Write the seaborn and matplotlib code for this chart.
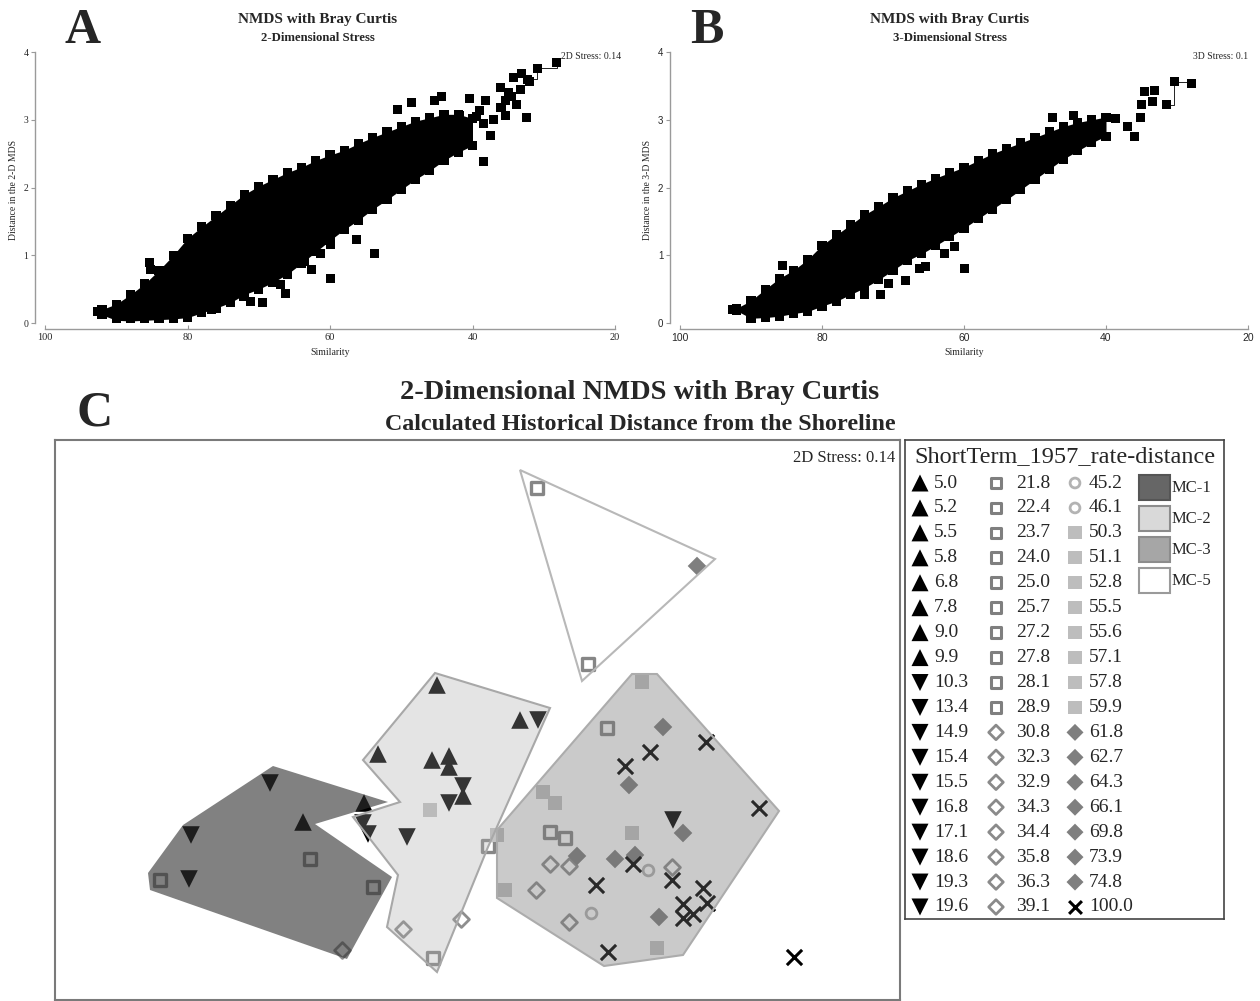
import matplotlib
matplotlib.use("Agg")
import matplotlib.pyplot as plt
import seaborn as sns
import pandas as pd

# === Shepard plot A (2-D) : dense band read as lower/upper envelope + loose points ===
band_sim = [92, 90, 88, 86, 84, 82, 80, 78, 76, 74, 72, 70, 68, 66, 64, 62, 60, 58, 56, 54, 52, 50, 48, 46, 44, 42, 40]
band_lo_a = [0.12, 0.04, 0.03, 0.04, 0.05, 0.06, 0.08, 0.15, 0.22, 0.30, 0.42, 0.50, 0.60, 0.72, 0.88, 1.05, 1.22, 1.38, 1.52, 1.68, 1.82, 1.97, 2.12, 2.25, 2.40, 2.52, 2.62]
band_hi_a = [0.20, 0.28, 0.42, 0.58, 0.78, 1.00, 1.25, 1.42, 1.58, 1.74, 1.90, 2.02, 2.12, 2.22, 2.30, 2.40, 2.48, 2.55, 2.65, 2.74, 2.82, 2.90, 2.98, 3.03, 3.08, 3.08, 3.02]
loose_sim_a = [92.7, 85.3, 85.2, 81.6, 78.6, 63.6, 62.6, 59.9, 59.9, 56.3, 53.7, 61.4, 66.3, 66.9, 69.5, 71.2, 72.1, 76.7,
               38.4, 42.9, 37.5, 28.2, 30.9, 32.3, 34.2, 33.1, 32.0, 33.3, 35.4, 36.1, 38.2, 40.4, 44.3, 45.3,
               39.0, 41.8, 35.4, 32.4, 41.0, 50.5, 48.5, 37.0, 36.0, 34.5, 38.5, 39.5, 33.8, 35.0]
loose_d_a = [0.17, 0.89, 0.79, 0.86, 1.00, 0.91, 0.79, 0.65, 1.16, 1.23, 1.03, 1.03, 0.44, 0.57, 0.30, 0.32, 0.39, 0.20,
             2.38, 2.58, 2.77, 3.84, 3.76, 3.60, 3.63, 3.69, 3.56, 3.44, 3.29, 3.47, 3.29, 3.32, 3.34, 3.29,
             3.14, 3.07, 3.07, 3.04, 2.92, 3.15, 3.25, 3.00, 3.18, 3.35, 2.95, 3.05, 3.22, 3.40]
step_sim_a = [32.3, 30.9, 30.9, 28.2, 28.2]
step_d_a = [3.60, 3.60, 3.76, 3.76, 3.84]

# === Shepard plot B (3-D) ===
band_lo_b = [0.18, 0.07, 0.08, 0.10, 0.14, 0.17, 0.25, 0.32, 0.42, 0.52, 0.64, 0.78, 0.92, 1.02, 1.14, 1.27, 1.40, 1.54, 1.68, 1.82, 1.97, 2.12, 2.27, 2.42, 2.54, 2.66, 2.76]
band_hi_b = [0.22, 0.33, 0.50, 0.66, 0.78, 0.94, 1.15, 1.30, 1.45, 1.60, 1.72, 1.85, 1.95, 2.05, 2.14, 2.22, 2.30, 2.40, 2.50, 2.58, 2.66, 2.74, 2.82, 2.90, 2.96, 3.00, 3.04]
loose_sim_b = [92.6, 85.5, 74.0, 71.8, 70.6, 68.3, 66.3, 65.4, 62.7, 61.3, 59.9,
               34.6, 33.2, 35.0, 33.5, 31.5, 30.4, 27.9, 47.5, 44.6, 38.6, 35.2, 37.0, 36.0]
loose_d_b = [0.20, 0.85, 0.42, 0.42, 0.59, 0.62, 0.81, 0.84, 1.03, 1.13, 0.80,
             3.41, 3.43, 3.22, 3.27, 3.22, 3.56, 3.54, 3.04, 3.07, 3.02, 3.04, 2.90, 2.75]
step_sim_b = [31.5, 30.4, 30.4, 27.9]
step_d_b = [3.22, 3.22, 3.56, 3.56]

# === Panel C: NMDS coordinates by symbol class ===
up_x = [-1.77, -1.16, -0.43, -1.02, -0.48, -0.31, -0.31, -0.17, 0.40]
up_y = [-1.02, -0.83, 0.35, -0.34, -0.40, -0.36, -0.47, -0.76, 0.00]
down_x = [-2.10, -2.89, -2.91, -1.17, -1.12, -0.73, -0.17, -0.31, 0.58, 1.93]
down_y = [-0.63, -1.15, -1.59, -1.03, -1.14, -1.17, -0.66, -0.83, 0.00, -1.00]
osq_x = [-1.70, -3.20, -1.07, -0.47, 0.08, 0.57, 1.08, 1.27, 0.70, 0.85]
osq_y = [-1.39, -1.60, -1.67, -2.38, -1.26, 2.32, 0.56, -0.08, -1.12, -1.18]
odia_x = [-1.38, -0.77, -0.19, 0.70, 0.89, 0.56, 0.89, 1.92]
odia_y = [-2.30, -2.09, -1.99, -1.44, -1.46, -1.70, -2.02, -1.47]
circ_x = [1.68, 1.11]
circ_y = [-1.50, -1.93]
lsq_x = [-0.50, 0.17, 0.25, 1.62, 0.63, 0.75, 1.52, 1.77]
lsq_y = [-0.90, -1.15, -1.70, 0.38, -0.72, -0.83, -1.13, -2.28]
fdia_x = [2.17, 1.83, 1.49, 2.03, 0.97, 1.35, 1.55, 1.79]
fdia_y = [1.54, -0.07, -0.65, -1.13, -1.36, -1.39, -1.35, -1.97]
cross_x = [2.26, 1.70, 1.45, 2.79, 1.53, 1.92, 1.16, 2.23, 2.27, 2.03, 2.13, 2.03, 1.28, 3.14]
cross_y = [-0.22, -0.32, -0.46, -0.88, -1.44, -1.60, -1.65, -1.68, -1.83, -1.84, -1.94, -1.98, -2.32, -2.37]

# cluster outlines (MC groups)
mc1_x = [-2.07, -0.92, -1.65, -0.88, -1.33, -3.30, -3.32, -2.97]
mc1_y = [-0.46, -0.82, -1.04, -1.57, -2.39, -1.70, -1.53, -1.05]
mc2_x = [-0.45, 0.70, 0.08, -0.43, -0.93, -0.82, -1.27, -0.80, -1.17]
mc2_y = [0.47, 0.12, -1.27, -2.52, -2.07, -1.55, -0.97, -0.82, -0.40]
mc3_x = [1.52, 1.77, 2.99, 2.03, 1.24, 0.17, 0.17]
mc3_y = [0.46, 0.46, -0.91, -2.35, -2.46, -1.78, -1.10]
mc5_x = [0.40, 2.35, 1.02]
mc5_y = [2.50, 1.61, 0.39]

# legend text
leg_col1 = ["5.0", "5.2", "5.5", "5.8", "6.8", "7.8", "9.0", "9.9", "10.3", "13.4", "14.9", "15.4", "15.5", "16.8", "17.1", "18.6", "19.3", "19.6"]
leg_col2 = ["21.8", "22.4", "23.7", "24.0", "25.0", "25.7", "27.2", "27.8", "28.1", "28.9", "30.8", "32.3", "32.9", "34.3", "34.4", "35.8", "36.3", "39.1"]
leg_col3 = ["45.2", "46.1", "50.3", "51.1", "52.8", "55.5", "55.6", "57.1", "57.8", "59.9", "61.8", "62.7", "64.3", "66.1", "69.8", "73.9", "74.8", "100.0"]
mc_names = ["MC-1", "MC-2", "MC-3", "MC-5"]

# === estilo ===
sns.set_theme(style="white")
plt.rcParams["font.family"] = ["Liberation Serif", "DejaVu Serif"]

W, H = 1260, 1001
fig = plt.figure(figsize=(12.6, 10.01), dpi=100)


def fr(px, py):
    return px / W, 1 - py / H


def shepard(ax, lo, hi, lsim, ld, ssim, sd, tickfam):
    ax.fill_between(band_sim, lo, hi, color="black", lw=0)
    edge = pd.DataFrame({"sim": band_sim + band_sim, "d": lo + hi})
    sns.scatterplot(data=edge, x="sim", y="d", marker="s", s=42, color="black",
                    edgecolor="none", ax=ax)
    loose = pd.DataFrame({"sim": lsim, "d": ld})
    sns.scatterplot(data=loose, x="sim", y="d", marker="s", s=42, color="black",
                    edgecolor="none", ax=ax)
    ax.plot(ssim, sd, color="black", lw=0.6)
    ax.set_xlim(100, 20)
    ax.set_ylim(0, 4)
    ax.set_xticks([100, 80, 60, 40, 20])
    ax.set_yticks([0, 1, 2, 3, 4])
    ax.set_xlabel("")
    ax.set_ylabel("")
    sns.despine(ax=ax, offset={"left": 7, "bottom": 4})
    for s in ("left", "bottom"):
        ax.spines[s].set_color("#9a9a9a")
        ax.spines[s].set_linewidth(1.0)
    ax.tick_params(axis="y", left=True, length=3, width=0.8, color="#9a9a9a", pad=2, labelsize=7)
    ax.tick_params(axis="x", bottom=True, direction="in", length=3, width=0.8, color="#9a9a9a", pad=3, labelsize=7.5)
    for lab in ax.get_xticklabels() + ax.get_yticklabels():
        lab.set_family(tickfam)


# --- A ---
axA = fig.add_axes([45 / W, 1 - 323 / H, 570 / W, 271 / H])
shepard(axA, band_lo_a, band_hi_a, loose_sim_a, loose_d_a, step_sim_a, step_d_a, "Liberation Serif")
axA.text(1.01, 0.985, "2D Stress: 0.14", transform=axA.transAxes, ha="right", va="center", fontsize=7)
fig.text(*fr(83, 31), "A", fontsize=36, fontweight="bold", ha="center", va="center")
fig.text(*fr(318, 20), "NMDS with Bray Curtis", fontsize=11, fontweight="bold", ha="center", va="center")
fig.text(*fr(318, 38), "2-Dimensional Stress", fontsize=9.2, fontweight="bold", ha="center", va="center")
fig.text(*fr(330, 353), "Similarity", fontsize=7, ha="center", va="center")
fig.text(*fr(14, 190), "Distance in the 2-D MDS", fontsize=7, ha="center", va="center", rotation=90)

# --- B ---
axB = fig.add_axes([680 / W, 1 - 323 / H, 568 / W, 271 / H])
shepard(axB, band_lo_b, band_hi_b, loose_sim_b, loose_d_b, step_sim_b, step_d_b, "Liberation Sans")
axB.text(1.0, 0.985, "3D Stress: 0.1", transform=axB.transAxes, ha="right", va="center", fontsize=7)
fig.text(*fr(707, 31), "B", fontsize=36, fontweight="bold", ha="center", va="center")
fig.text(*fr(950, 20), "NMDS with Bray Curtis", fontsize=11, fontweight="bold", ha="center", va="center")
fig.text(*fr(950, 38), "3-Dimensional Stress", fontsize=9.2, fontweight="bold", ha="center", va="center")
fig.text(*fr(964, 353), "Similarity", fontsize=7, ha="center", va="center")
fig.text(*fr(648, 190), "Distance in the 3-D MDS", fontsize=7, ha="center", va="center", rotation=90)

# --- C --- (points first, translucent cluster hulls drawn over them)
axC = fig.add_axes([55 / W, 1 - 1000 / H, 845 / W, 560 / H])

sns.scatterplot(x=up_x, y=up_y, marker="^", s=160, color="black", edgecolor="none", ax=axC, zorder=1)
sns.scatterplot(x=down_x, y=down_y, marker="v", s=160, color="black", edgecolor="none", ax=axC, zorder=1)
sns.scatterplot(x=osq_x, y=osq_y, marker="s", s=75, facecolor="white", edgecolor="#868686", linewidth=2.4, ax=axC, zorder=1)
sns.scatterplot(x=odia_x, y=odia_y, marker="D", s=65, facecolor="white", edgecolor="#8e8e8e", linewidth=2.0, ax=axC, zorder=1)
sns.scatterplot(x=circ_x, y=circ_y, marker="o", s=60, facecolor="white", edgecolor="#b3b3b3", linewidth=2.0, ax=axC, zorder=1)
sns.scatterplot(x=lsq_x, y=lsq_y, marker="s", s=110, color="#c4c4c4", edgecolor="none", ax=axC, zorder=1)
sns.scatterplot(x=fdia_x, y=fdia_y, marker="D", s=90, color="#7f7f7f", edgecolor="none", ax=axC, zorder=1)
sns.scatterplot(x=cross_x, y=cross_y, marker="x", s=120, color="black", linewidth=2.2, ax=axC, zorder=1)

axC.fill(mc1_x, mc1_y, facecolor="#313131", alpha=0.61, edgecolor="none", zorder=2)
axC.fill(mc2_x, mc2_y, facecolor="#aaaaaa", alpha=0.31, edgecolor="none", zorder=2)
axC.fill(mc3_x, mc3_y, facecolor="#717171", alpha=0.37, edgecolor="none", zorder=2)
axC.fill(mc2_x, mc2_y, facecolor="none", edgecolor="#a8a8a8", lw=1.5, zorder=2)
axC.fill(mc3_x, mc3_y, facecolor="none", edgecolor="#acacac", lw=1.5, zorder=2)
axC.fill(mc5_x, mc5_y, facecolor="none", edgecolor="#b8b8b8", lw=1.5, zorder=2)

axC.set_xlim(-4.25, 4.20)
axC.set_ylim(-2.80, 2.80)
axC.set_xticks([])
axC.set_yticks([])
for s in axC.spines.values():
    s.set_visible(True)
    s.set_color("#7a7a7a")
    s.set_linewidth(1.5)
axC.text(0.994, 0.968, "2D Stress: 0.14", transform=axC.transAxes, ha="right", va="center", fontsize=12)

fig.text(*fr(95, 413), "C", fontsize=36, fontweight="bold", ha="center", va="center")
fig.text(*fr(640, 392), "2-Dimensional NMDS with Bray Curtis", fontsize=20.5, fontweight="bold", ha="center", va="center")
fig.text(*fr(640, 425), "Calculated Historical Distance from the Shoreline", fontsize=17.3, fontweight="bold", ha="center", va="center")

# --- legend panel ---
axL = fig.add_axes([905 / W, 1 - 919 / H, 319 / W, 479 / H])
axL.set_xlim(0, 319)
axL.set_ylim(479, 0)
axL.set_xticks([])
axL.set_yticks([])
for s in axL.spines.values():
    s.set_visible(True)
    s.set_color("#444444")
    s.set_linewidth(1.2)
axL.text(160, 17, "ShortTerm_1957_rate-distance", fontsize=17.5, ha="center", va="center")

rows = list(range(18))
row_y = [43 + r * 24.94 for r in rows]


def leg_marker(x, y, kind):
    if kind == "up":
        axL.scatter([x], [y], marker="^", s=150, color="black", edgecolor="none")
    elif kind == "down":
        axL.scatter([x], [y], marker="v", s=150, color="black", edgecolor="none")
    elif kind == "osq":
        axL.scatter([x], [y], marker="s", s=60, facecolor="none", edgecolor="#7f7f7f", linewidth=2.2)
    elif kind == "odia":
        axL.scatter([x], [y], marker="D", s=55, facecolor="none", edgecolor="#8a8a8a", linewidth=2.0)
    elif kind == "circ":
        axL.scatter([x], [y], marker="o", s=50, facecolor="none", edgecolor="#b3b3b3", linewidth=2.0)
    elif kind == "lsq":
        axL.scatter([x], [y], marker="s", s=90, color="#bdbdbd", edgecolor="none")
    elif kind == "fdia":
        axL.scatter([x], [y], marker="D", s=75, color="#7f7f7f", edgecolor="none")
    elif kind == "cross":
        axL.scatter([x], [y], marker="x", s=85, color="black", linewidth=2.2)


kinds1 = ["up"] * 8 + ["down"] * 10
kinds2 = ["osq"] * 10 + ["odia"] * 8
kinds3 = ["circ"] * 2 + ["lsq"] * 8 + ["fdia"] * 7 + ["cross"]
for col, kinds, mx, tx in [(leg_col1, kinds1, 15, 29), (leg_col2, kinds2, 91, 111), (leg_col3, kinds3, 170, 184)]:
    for lab, k, y in zip(col, kinds, row_y):
        leg_marker(mx, y, k)
        axL.text(tx, y, lab, fontsize=14, ha="left", va="center")

mc_face = ["#666666", "#d9d9d9", "#a6a6a6", "white"]
mc_edge = ["#555555", "#8c8c8c", "#8c8c8c", "#9a9a9a"]
for i, (nm, fc, ec) in enumerate(zip(mc_names, mc_face, mc_edge)):
    y0 = 35 + i * 31
    axL.add_patch(plt.Rectangle((234, y0), 31, 25, facecolor=fc, edgecolor=ec, lw=1.5))
    axL.text(267, y0 + 13, nm, fontsize=12, ha="left", va="center")

fig.savefig("out.png", dpi=100)
